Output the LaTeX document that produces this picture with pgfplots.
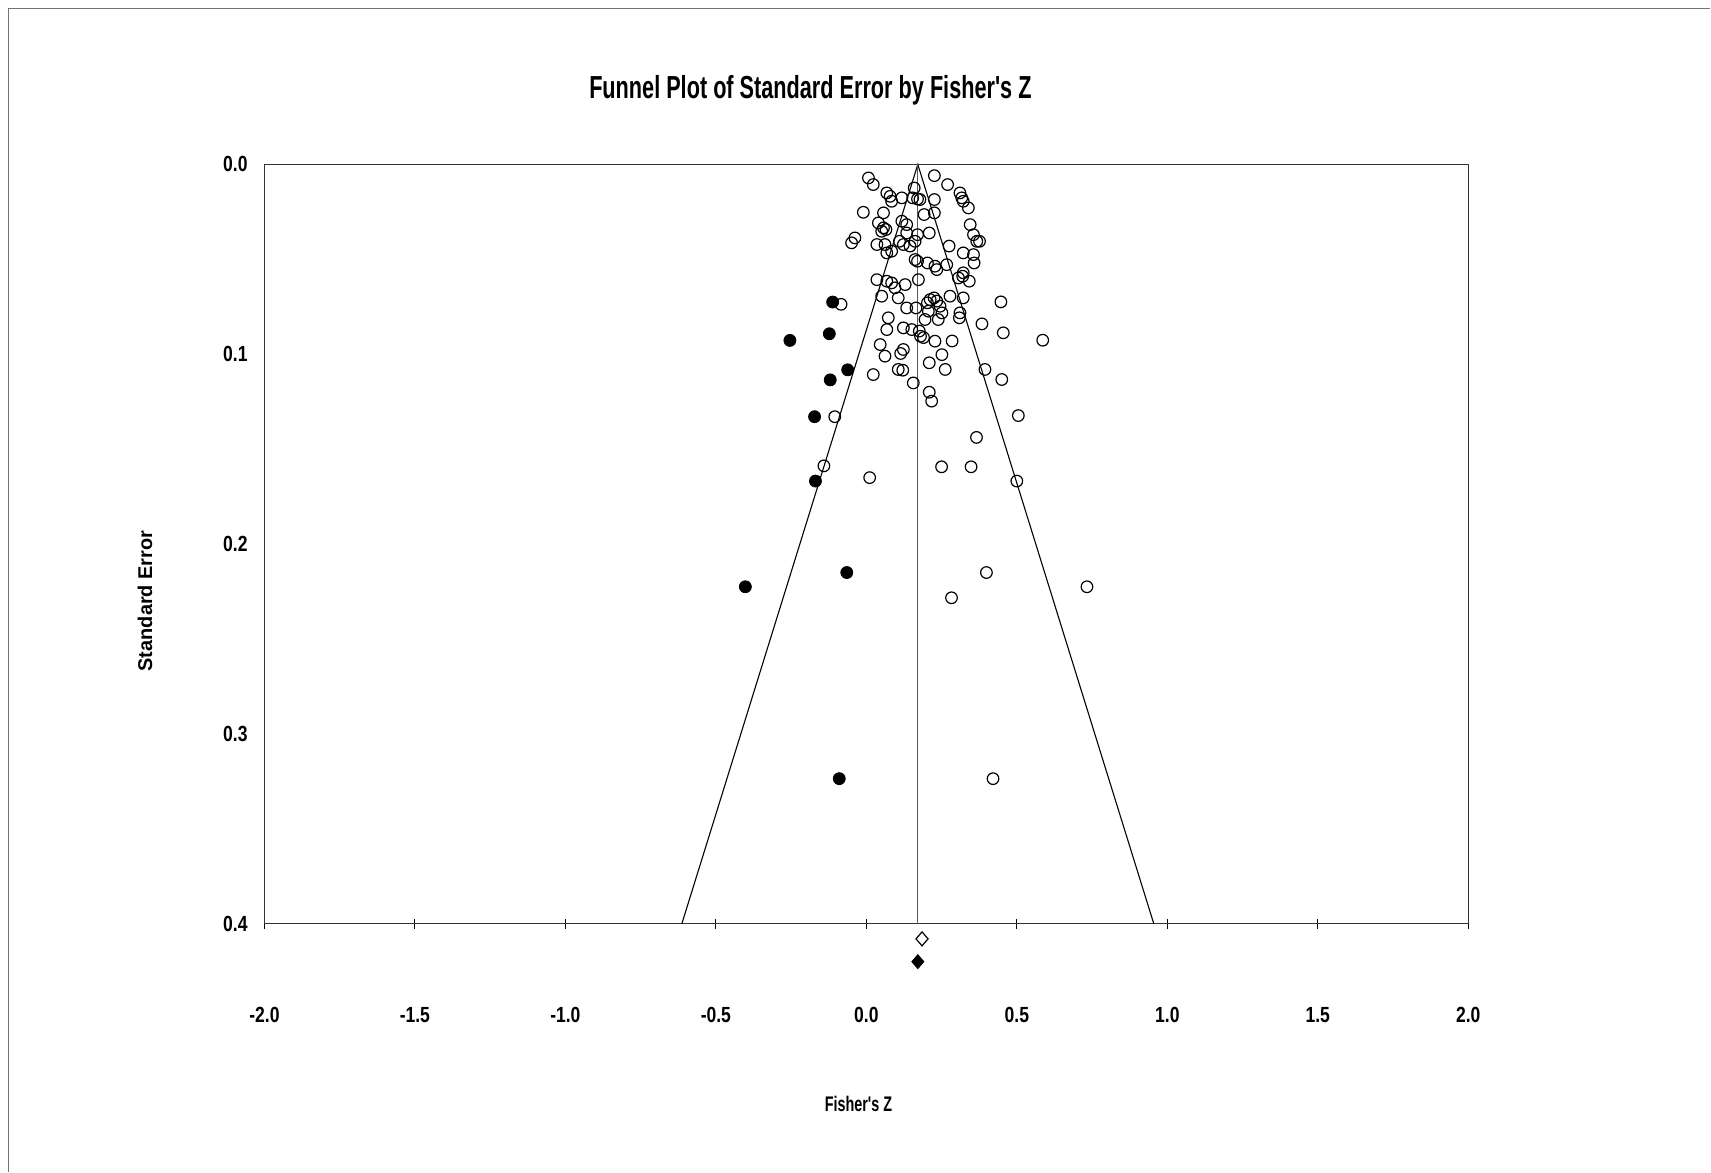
\documentclass[border=0pt]{standalone}
\usepackage{fontspec}
\setmainfont{Liberation Sans}
\newfontfamily\titlefont[FakeStretch=0.68]{Liberation Sans}
\newfontfamily\tickfont[FakeStretch=0.8]{Liberation Sans}
\usepackage{pgfplots}
\pgfplotsset{compat=1.18}

% observed studies (open circles)
\pgfplotstableread{
z se
0.007 0.0071
0.023 0.0106
0.226 0.0059
0.270 0.0106
0.068 0.0150
0.079 0.0168
0.084 0.0194
0.118 0.0176
0.159 0.0124
0.154 0.0176
0.170 0.0182
0.178 0.0185
0.226 0.0185
-0.010 0.0252
0.057 0.0255
0.192 0.0264
0.226 0.0255
0.040 0.0308
0.057 0.0334
0.065 0.0343
0.051 0.0352
0.118 0.0299
0.134 0.0317
0.134 0.0361
0.209 0.0361
0.170 0.0370
-0.038 0.0387
-0.049 0.0413
0.035 0.0422
0.062 0.0422
0.110 0.0405
0.123 0.0422
0.162 0.0405
0.275 0.0430
0.311 0.0150
0.317 0.0176
0.322 0.0194
0.339 0.0229
0.345 0.0317
0.356 0.0370
0.367 0.0405
0.376 0.0405
0.068 0.0466
0.084 0.0457
0.145 0.0430
0.162 0.0501
0.170 0.0510
0.203 0.0519
0.228 0.0536
0.234 0.0554
0.267 0.0528
0.035 0.0607
0.068 0.0615
0.084 0.0624
0.095 0.0650
0.129 0.0633
0.173 0.0607
0.051 0.0694
0.106 0.0703
0.134 0.0756
0.165 0.0756
0.203 0.0729
0.212 0.0712
0.225 0.0703
0.234 0.0720
0.245 0.0747
0.206 0.0773
0.251 0.0782
-0.084 0.0737
0.073 0.0808
0.195 0.0817
0.239 0.0817
0.068 0.0870
0.123 0.0861
0.151 0.0870
0.176 0.0878
0.322 0.0466
0.356 0.0475
0.358 0.0519
0.306 0.0598
0.322 0.0571
0.320 0.0589
0.342 0.0615
0.322 0.0703
0.278 0.0694
0.311 0.0782
0.309 0.0808
0.447 0.0724
0.384 0.0840
0.455 0.0887
0.180 0.0905
0.190 0.0912
0.228 0.0931
0.046 0.0949
0.062 0.1010
0.123 0.0975
0.114 0.0996
0.251 0.1002
0.209 0.1045
0.262 0.1080
0.023 0.1107
0.106 0.1080
0.121 0.1084
0.156 0.1151
0.209 0.1200
0.217 0.1247
0.285 0.0930
0.586 0.0926
0.394 0.1080
0.450 0.1133
0.505 0.1323
-0.105 0.1329
-0.141 0.1588
0.011 0.1650
0.250 0.1593
0.348 0.1593
0.366 0.1438
0.500 0.1668
0.399 0.2150
0.283 0.2283
0.733 0.2225
0.421 0.3236
}\observed

% imputed studies (filled circles)
\pgfplotstableread{
z se
-0.112 0.0725
-0.254 0.0927
-0.123 0.0892
-0.062 0.1082
-0.120 0.1135
-0.172 0.1329
-0.169 0.1668
-0.402 0.2225
-0.065 0.2150
-0.090 0.3236
}\imputed

\begin{document}
\begin{tikzpicture}
% page size, 0.5bp per reference pixel
\path (-132.25bp,-124bp) rectangle (723.25bp,462bp);
\draw[black!55, line width=0.6bp] (-127.9bp,-124bp) -- (-127.9bp,457.6bp) -- (723.25bp,457.6bp);
\begin{axis}[
    scale only axis,
    width=602.15bp, height=379.75bp,
    xmin=-2, xmax=2, ymin=0, ymax=0.4,
    y dir=reverse,
    clip=false,
    axis line style={black!80, line width=0.7bp},
    tick pos=left,
    tick align=center,
    major tick length=5bp,
    xtick style={black, line width=0.6bp},
    ytick style={draw=none},
    xtick={-2,-1.5,-1,-0.5,0,0.5,1,1.5,2},
    xticklabels={-2.0,-1.5,-1.0,-0.5,0.0,0.5,1.0,1.5,2.0},
    ytick={0,0.1,0.2,0.3,0.4},
    yticklabels={0.0,0.1,0.2,0.3,0.4},
    xticklabel style={font=\tickfont\bfseries\fontsize{11}{13}\selectfont, anchor=center, yshift=-43.3bp},
    yticklabel style={font=\tickfont\bfseries\fontsize{11}{13}\selectfont, anchor=east, xshift=-2.4bp},
    title={Funnel Plot of Standard Error by Fisher's Z},
    title style={at={(axis description cs:0.4535,1.082)}, anchor=center,
        font=\titlefont\bfseries\fontsize{16}{19}\selectfont},
    xlabel={Fisher's Z},
    xlabel style={at={(axis description cs:0.4935,-0.237)}, anchor=center,
        font=\titlefont\bfseries\fontsize{10.6}{12}\selectfont},
    ylabel={Standard Error},
    ylabel style={at={(axis description cs:-0.0992,0.425)}, anchor=center,
        font=\bfseries\fontsize{10}{12}\selectfont},
]
% funnel (95% limits) and combined effect line
\addplot[black, line width=0.55bp] coordinates {(-0.613,0.4) (0.171,0) (0.955,0.4)};
\addplot[black!65, line width=0.6bp] coordinates {(0.171,0) (0.171,0.4)};

\addplot[only marks, mark=o, mark size=2.9bp, mark options={black, line width=0.6bp}]
    table[x=z, y=se] {\observed};
\addplot[only marks, mark=*, mark size=3.0bp, mark options={black, fill=black}]
    table[x=z, y=se] {\imputed};

% summary diamonds below the axis
\addplot[only marks, mark=diamond, mark size=3.5bp, mark options={black, line width=0.6bp, xscale=1.15}]
    coordinates {(0.185,0.408)};
\addplot[only marks, mark=diamond*, mark size=3.5bp, mark options={black, fill=black, xscale=1.15}]
    coordinates {(0.171,0.420)};
\end{axis}
\end{tikzpicture}
\end{document}
